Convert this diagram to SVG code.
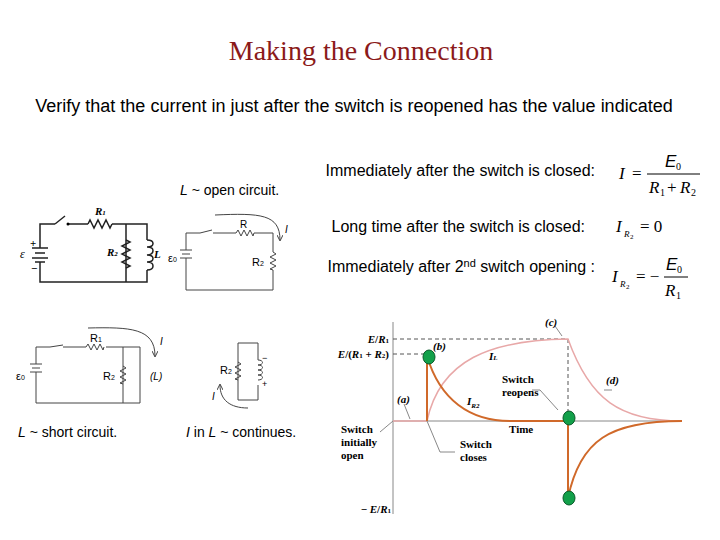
<svg xmlns="http://www.w3.org/2000/svg" width="720" height="540" viewBox="0 0 720 540">
<defs>
<style>
.s{font-family:"Liberation Sans",Arial,sans-serif}
.m{font-family:"Liberation Serif","Times New Roman",serif}
.w{fill:none;stroke:#222;stroke-width:1.5}
.h{fill:none;stroke:#444;stroke-width:1}
.b{font-family:"Liberation Serif",serif;font-weight:bold;font-size:11px}
.gl{fill:none;stroke:#888;stroke-width:1}
</style>
<marker id="ar" markerWidth="6" markerHeight="6" refX="5" refY="3" orient="auto"><path d="M0,0L6,3L0,6" fill="none" stroke="#444"/></marker>
</defs>
<rect width="720" height="540" fill="#fff"/>
<text x="361" y="60" text-anchor="middle" class="m" font-size="28" fill="#8b1a1a">Making the Connection</text>
<text x="354" y="112" text-anchor="middle" class="s" font-size="18">Verify that the current in just after the switch is reopened has the value indicated</text>
<g id="texts" class="s" font-size="16">
<text x="595" y="176" text-anchor="end">Immediately after the switch is closed:</text>
<text x="585" y="232" text-anchor="end">Long time after the switch is closed:</text>
<text x="595" y="272" text-anchor="end">Immediately after 2<tspan font-size="11" dy="-5">nd</tspan><tspan dy="5"> switch opening :</tspan></text>
<text x="180" y="195" font-size="14"><tspan font-style="italic">L</tspan> ~ open circuit.</text>
<text x="18" y="437" font-size="14"><tspan font-style="italic">L</tspan> ~ short circuit.</text>
<text x="186" y="437" font-size="14"><tspan font-style="italic">I</tspan> in <tspan font-style="italic">L</tspan> ~ continues.</text>
</g>
<g id="eqs" class="m" font-size="17">
<text x="619" y="179" font-style="italic">I</text><text x="632" y="179">=</text>
<text x="665" y="167" class="s" font-style="italic" font-size="17">E</text><text x="676" y="170" font-size="10">0</text>
<line x1="647" y1="174" x2="700" y2="174" stroke="#000"/>
<text x="649" y="193" font-style="italic">R</text><text x="660" y="196" font-size="10">1</text><text x="667" y="193">+</text><text x="680" y="193" font-style="italic">R</text><text x="691" y="196" font-size="10">2</text>
<text x="616" y="232" font-style="italic">I</text><text x="624" y="237" font-style="italic" font-size="9">R</text><text x="630" y="239" font-size="7">2</text><text x="640" y="232">= 0</text>
<text x="612" y="282" font-style="italic">I</text><text x="620" y="287" font-style="italic" font-size="9">R</text><text x="626" y="289" font-size="7">2</text><text x="636" y="282">= −</text>
<text x="666" y="270" class="s" font-style="italic">E</text><text x="677" y="273" font-size="10">0</text>
<line x1="664" y1="277" x2="688" y2="277" stroke="#000"/>
<text x="665" y="296" font-style="italic">R</text><text x="676" y="299" font-size="10">1</text>
</g>
<g id="circuit1">
<path class="w" d="M40,248V224H55M68,224H88M112,224H147V240M147,270V282H40V262M126,224V282"/>
<line x1="55" y1="224" x2="65" y2="216" class="w"/><circle cx="68" cy="224" r="1.5"/>
<path class="w" d="M88,224l2,-4l4,8l4,-8l4,8l4,-8l4,8l2,-4"/>
<path class="w" d="M126,240l4,2l-8,4l8,4l-8,4l8,4l-8,4l8,4l-4,2"/>
<path class="w" d="M147,240c8,0 8,7 0,7c8,0 8,7 0,8c8,0 8,7 0,7c8,0 8,8 0,8"/>
<path class="w" d="M32,248H48M35,253H45M32,258H48M35,262H45"/>
<text x="30" y="247" class="b" font-size="14">+</text><text x="31" y="272" class="b" font-size="14">−</text>
<text x="20" y="258" class="m" font-size="12" font-style="italic">ε</text>
<text x="95" y="215" class="b" font-style="italic">R<tspan font-size="7">1</tspan></text>
<text x="107" y="256" class="b" font-style="italic">R<tspan font-size="7">2</tspan></text>
<text x="154" y="258" class="b" font-style="italic">L</text>
</g>
<g id="circuit2">
<path class="h" d="M186,250V233H200M213,233H236M254,233H273V252M273,270V290H186V258"/>
<line x1="200" y1="233" x2="212" y2="230" class="h"/>
<path class="h" d="M236,233l2,-3l3,6l3,-6l3,6l3,-6l3,6l1,-3"/>
<path class="h" d="M273,252l3,2l-6,3l6,3l-6,3l6,3l-6,3l3,1"/>
<path class="h" d="M180,250H192M182,254H190M180,258H192"/>
<text x="168" y="262" class="s" font-size="11">ε<tspan font-size="7">0</tspan></text>
<text x="240" y="228" class="s" font-size="10">R</text><text x="252" y="266" class="s" font-size="11">R<tspan font-size="7">2</tspan></text>
<path class="h" d="M215,215C260,213 280,214 280,240" marker-end="url(#ar)"/>
<text x="285" y="233" class="s" font-size="10" font-style="italic">I</text>
</g>
<g id="circuit3">
<path class="h" d="M36,364V347H50M63,347H86M106,347H140V403H36V372M123,347V403"/>
<line x1="50" y1="347" x2="63" y2="345" class="h"/>
<path class="h" d="M86,347l2,-3l3,6l3,-6l3,6l3,-6l3,6l1,-3"/>
<path class="h" d="M123,366l3,2l-6,3l6,3l-6,3l6,3l-6,3l3,1"/>
<path class="h" d="M30,364H42M32,368H40M30,372H42"/>
<text x="16" y="380" class="s" font-size="11">ε<tspan font-size="7">0</tspan></text>
<text x="90" y="342" class="s" font-size="11">R<tspan font-size="7">1</tspan></text>
<text x="103" y="380" class="s" font-size="11">R<tspan font-size="7">2</tspan></text>
<path class="h" d="M88,328C130,327 155,328 155,356" marker-end="url(#ar)"/>
<text x="160" y="345" class="s" font-size="10" font-style="italic">I</text>
<text x="150" y="380" class="s" font-size="10" font-style="italic">(L)</text>
</g>
<g id="circuit4">
<path class="h" d="M238,343H258V360M258,385V400H238V343"/>
<path class="h" d="M238,362l3,2l-6,3l6,3l-6,3l6,3l-6,3l3,1"/>
<path class="h" d="M258,360c6,0 6,5 0,5c6,0 6,5 0,5c6,0 6,5 0,5c6,0 6,5 0,5"/>
<text x="220" y="374" class="s" font-size="11">R<tspan font-size="7">2</tspan></text>
<text x="262" y="361" class="s" font-size="9">−</text><text x="262" y="387" class="s" font-size="9">+</text>
<path class="h" d="M248,408C230,408 220,400 220,385" marker-end="url(#ar)"/>
<text x="212" y="400" class="s" font-size="10" font-style="italic">I</text>
</g>
<g id="graph">
<line x1="393" y1="322" x2="393" y2="514" class="gl"/>
<line x1="393" y1="421" x2="682" y2="421" class="gl"/>
<path d="M393,339H568V421M393,354H430" fill="none" stroke="#555" stroke-dasharray="4,3"/>
<path d="M427,421C440,360 490,340 568,339C590,400 620,421 682,421" fill="none" stroke="#e8a8a8" stroke-width="1.5"/>
<path d="M393,421H427" fill="none" stroke="#e8a8a8" stroke-width="1.5"/>
<path d="M427,421V356C440,400 470,421 510,421H568V498C580,440 610,421 682,421" fill="none" stroke="#d0692a" stroke-width="2"/>
<g fill="#12a04a" stroke="#0a5a2a"><ellipse cx="429" cy="357" rx="6" ry="7"/><ellipse cx="569" cy="418" rx="6" ry="7"/><ellipse cx="569" cy="498" rx="6" ry="7"/></g>
<path d="M393,421L380,432M427,421L440,452H455M562,336L555,326M558,410L540,390H532M612,390L604,390M404,404L410,419" class="gl"/>
<g class="b">
<text x="389" y="343" text-anchor="end"><tspan font-style="italic">E</tspan>/<tspan font-style="italic">R</tspan><tspan font-size="7">1</tspan></text>
<text x="389" y="358" text-anchor="end"><tspan font-style="italic">E</tspan>/(<tspan font-style="italic">R</tspan><tspan font-size="7">1</tspan> + <tspan font-style="italic">R</tspan><tspan font-size="7">2</tspan>)</text>
<text x="391" y="513" text-anchor="end">− <tspan font-style="italic">E</tspan>/<tspan font-style="italic">R</tspan><tspan font-size="7">1</tspan></text>
<text x="545" y="326" font-style="italic">(c)</text>
<text x="433" y="350" font-style="italic">(b)</text>
<text x="489" y="360" font-style="italic">I<tspan font-size="7">L</tspan></text>
<text x="606" y="384" font-style="italic">(d)</text>
<text x="397" y="403" font-style="italic">(a)</text>
<text x="467" y="405" font-style="italic">I<tspan font-size="7" dy="3">R2</tspan></text>
<text x="502" y="383">Switch</text><text x="502" y="396">reopens</text>
<text x="509" y="433">Time</text>
<text x="341" y="433">Switch</text><text x="341" y="446">initially</text><text x="341" y="459">open</text>
<text x="460" y="448">Switch</text><text x="460" y="461">closes</text>
</g>
</g>
</svg>
